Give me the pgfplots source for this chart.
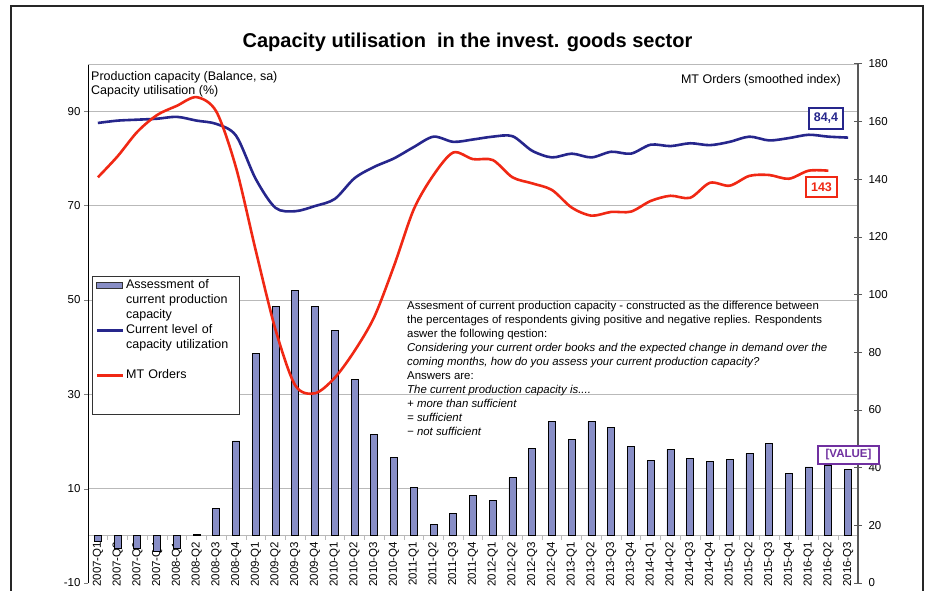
\documentclass[border=0pt]{standalone}
\usepackage{pgfplots}
\usepackage{pgfplotstable}
\pgfplotsset{compat=1.18}
\usepackage{fontspec}
\setmainfont{Liberation Sans}
\definecolor{barfill}{RGB}{136,142,198}
\definecolor{cublue}{RGB}{38,38,140}
\definecolor{mtred}{RGB}{240,40,20}
\definecolor{gridgray}{RGB}{185,185,185}
\definecolor{valpurple}{RGB}{112,48,160}

\pgfplotstableread{
idx bal cu
0 -1.1 87.5
1 -2.7 88.0
2 -2.7 88.2
3 -3.2 88.4
4 -2.7 88.8
5 0.2 88.0
6 5.8 87.3
7 20.1 84.8
8 38.7 75.6
9 48.6 69.5
10 52.0 68.8
11 48.6 69.9
12 43.5 71.4
13 33.1 75.8
14 21.4 78.2
15 16.6 80.0
16 10.3 82.4
17 2.4 84.6
18 4.8 83.5
19 8.6 84.0
20 7.5 84.6
21 12.3 84.7
22 18.6 81.6
23 24.2 80.2
24 20.4 81.0
25 24.2 80.2
26 22.9 81.4
27 18.9 81.0
28 16.0 82.9
29 18.3 82.6
30 16.4 83.2
31 15.8 82.8
32 16.2 83.5
33 17.4 84.6
34 19.5 83.8
35 13.2 84.3
36 14.6 85.0
37 15.0 84.6
38 14.0 84.4
}\capdata

\pgfplotstableread{
idx mt
0 140.7
1 148.0
2 156.5
3 162.3
4 165.5
5 168.5
6 163.5
7 144.0
8 115.2
9 87.8
10 68.5
11 65.8
12 71.2
13 80.5
14 92.3
15 110.0
16 129.6
17 141.5
18 149.3
19 147.0
20 146.7
21 140.7
22 138.6
23 136.3
24 130.2
25 127.4
26 128.7
27 128.8
28 132.5
29 134.3
30 133.6
31 138.8
32 137.8
33 141.2
34 141.5
35 140.2
36 143.0
37 143.0
}\mtdata

\begin{document}
\begin{tikzpicture}[x=1pt,y=1pt]
\useasboundingbox (0,0) rectangle (928,590);
\draw[line width=1.6pt, black!85] (11,-20) rectangle (923,584);
\node[font=\fontsize{20}{23}\selectfont\bfseries] at (467.5,547.5) {Capacity utilisation\ \ in the invest. goods sector};

\begin{axis}[
  at={(88pt,7pt)}, anchor=south west, scale only axis,
  width=770pt, height=519pt,
  xmin=-0.5, xmax=38.5, ymin=-10, ymax=100,
  axis y line*=left, axis x line*=middle,
  x axis line style={gridgray, line width=0.8pt, -},
  y axis line style={black, line width=1pt, -},
  xtick={0,...,38},
  xticklabels={2007-Q1,2007-Q2,2007-Q3,2007-Q4,2008-Q1,2008-Q2,2008-Q3,2008-Q4,2009-Q1,2009-Q2,2009-Q3,2009-Q4,2010-Q1,2010-Q2,2010-Q3,2010-Q4,2011-Q1,2011-Q2,2011-Q3,2011-Q4,2012-Q1,2012-Q2,2012-Q3,2012-Q4,2013-Q1,2013-Q2,2013-Q3,2013-Q4,2014-Q1,2014-Q2,2014-Q3,2014-Q4,2015-Q1,2015-Q2,2015-Q3,2015-Q4,2016-Q1,2016-Q2,2016-Q3},
  minor xtick={-0.5,0.5,...,38.5},
  major x tick style={draw=none},
  minor x tick style={gridgray, line width=0.8pt},
  minor tick length=4pt,
  tick align=outside,
  major tick length=4pt,
  ytick={10,30,50,70,90},
  extra y ticks={-10},
  extra y tick style={grid=none},
  ymajorgrids, grid style={gridgray, line width=0.8pt},
  /pgf/number format/assume math mode=true,
  tick label style={font=\fontsize{11.5}{13}\selectfont},
  xticklabel style={font=\fontsize{11.5}{12}\selectfont, rotate=90, anchor=east, inner sep=2pt},
  legend style={at={(axis description cs:0.0052,0.5915)}, anchor=north west,
    draw=black!80, line width=1.2pt, fill=white,
    font=\fontsize{12.5}{14}\selectfont,
    inner xsep=3pt, inner ysep=2pt, row sep=1pt, column sep=2pt,
    nodes={inner sep=0pt, text height=10pt, text depth=4pt, text width=110pt, align=left}},
  legend cell align=left,
]
\addplot[ybar, bar width=7pt, fill=barfill, draw=black, line width=0.8pt, forget plot] table[x=idx,y=bal]{\capdata};
\addplot[cublue, line width=2.6pt, smooth, forget plot] table[x=idx,y=cu]{\capdata};
\draw[gridgray, line width=0.8pt] (rel axis cs:0,1) -- (rel axis cs:1,1);

\addlegendimage{legend image code/.code={\draw[fill=barfill, draw=black!80, line width=0.8pt] (0pt,-2.5pt) rectangle (26pt,3pt);}}
\addlegendentry{Assessment of}
\addlegendimage{empty legend}
\addlegendentry{current production}
\addlegendimage{empty legend}
\addlegendentry{capacity}
\addlegendimage{legend image code/.code={\draw[cublue, line width=2.5pt] (0pt,0pt) -- (26pt,0pt);}}
\addlegendentry{Current level of}
\addlegendimage{empty legend}
\addlegendentry{capacity utilization}
\addlegendimage{empty legend}
\addlegendentry{\mbox{}}
\addlegendimage{legend image code/.code={\draw[mtred, line width=2.5pt] (0pt,0pt) -- (26pt,0pt);}}
\addlegendentry{MT Orders}
\addlegendimage{empty legend}
\addlegendentry{\mbox{}}
\addlegendimage{empty legend}
\addlegendentry{\mbox{}}
\end{axis}

\begin{axis}[
  at={(88pt,7pt)}, anchor=south west, scale only axis,
  width=770pt, height=519pt,
  xmin=-0.5, xmax=38.5, ymin=0, ymax=180,
  axis y line*=right, axis x line=none,
  y axis line style={gray!70!black, line width=1.2pt, -},
  ytick={0,20,...,180},
  tick align=center, major tick length=8pt,
  ytick style={gray!70!black, line width=1pt},
  /pgf/number format/assume math mode=true,
  tick label style={font=\fontsize{11.5}{13}\selectfont},
  yticklabel style={xshift=3pt},
]
\addplot[mtred, line width=2.6pt, smooth] table[x=idx,y=mt]{\mtdata};
\end{axis}

\node[anchor=west, font=\fontsize{12.5}{14}\selectfont, inner sep=0pt] at (91,513) {Production capacity (Balance, sa)};
\node[anchor=west, font=\fontsize{12.5}{14}\selectfont, inner sep=0pt] at (91,498.3) {Capacity utilisation (\%)};
\node[anchor=east, font=\fontsize{12.5}{14}\selectfont, inner sep=0pt] at (841,510) {MT Orders (smoothed index)};

\node[anchor=north west, align=left, inner sep=0pt, font=\fontsize{11.4}{14}\selectfont] at (407,289) {Assesment of current production capacity - constructed as the difference between\\
the percentages of respondents giving positive and negative replies. Respondents\\
aswer the following qestion:\\
\textit{Considering your current order books and the expected change in demand over the}\\
\textit{coming months, how do you assess your current production capacity?}\\
Answers are:\\
\textit{The current production capacity is....}\\
\textit{+ more than sufficient}\\
\textit{= sufficient}\\
\textit{− not sufficient}};

\node[draw=cublue, line width=1.5pt, fill=white, text=cublue, font=\fontsize{12.5}{14}\selectfont\bfseries, minimum width=34pt, minimum height=21pt, inner sep=1pt] at (826,471.5) {84,4};
\node[draw=mtred, line width=1.5pt, fill=white, text=mtred, font=\fontsize{12.5}{14}\selectfont\bfseries, minimum width=31pt, minimum height=20pt, inner sep=1pt] at (821.5,403) {143};
\node[draw=valpurple, line width=1.2pt, fill=white, text=valpurple, font=\fontsize{11.5}{13}\selectfont\bfseries, minimum width=61pt, minimum height=18pt, inner sep=1pt] at (848.5,135) {[VALUE]};
\end{tikzpicture}
\end{document}
